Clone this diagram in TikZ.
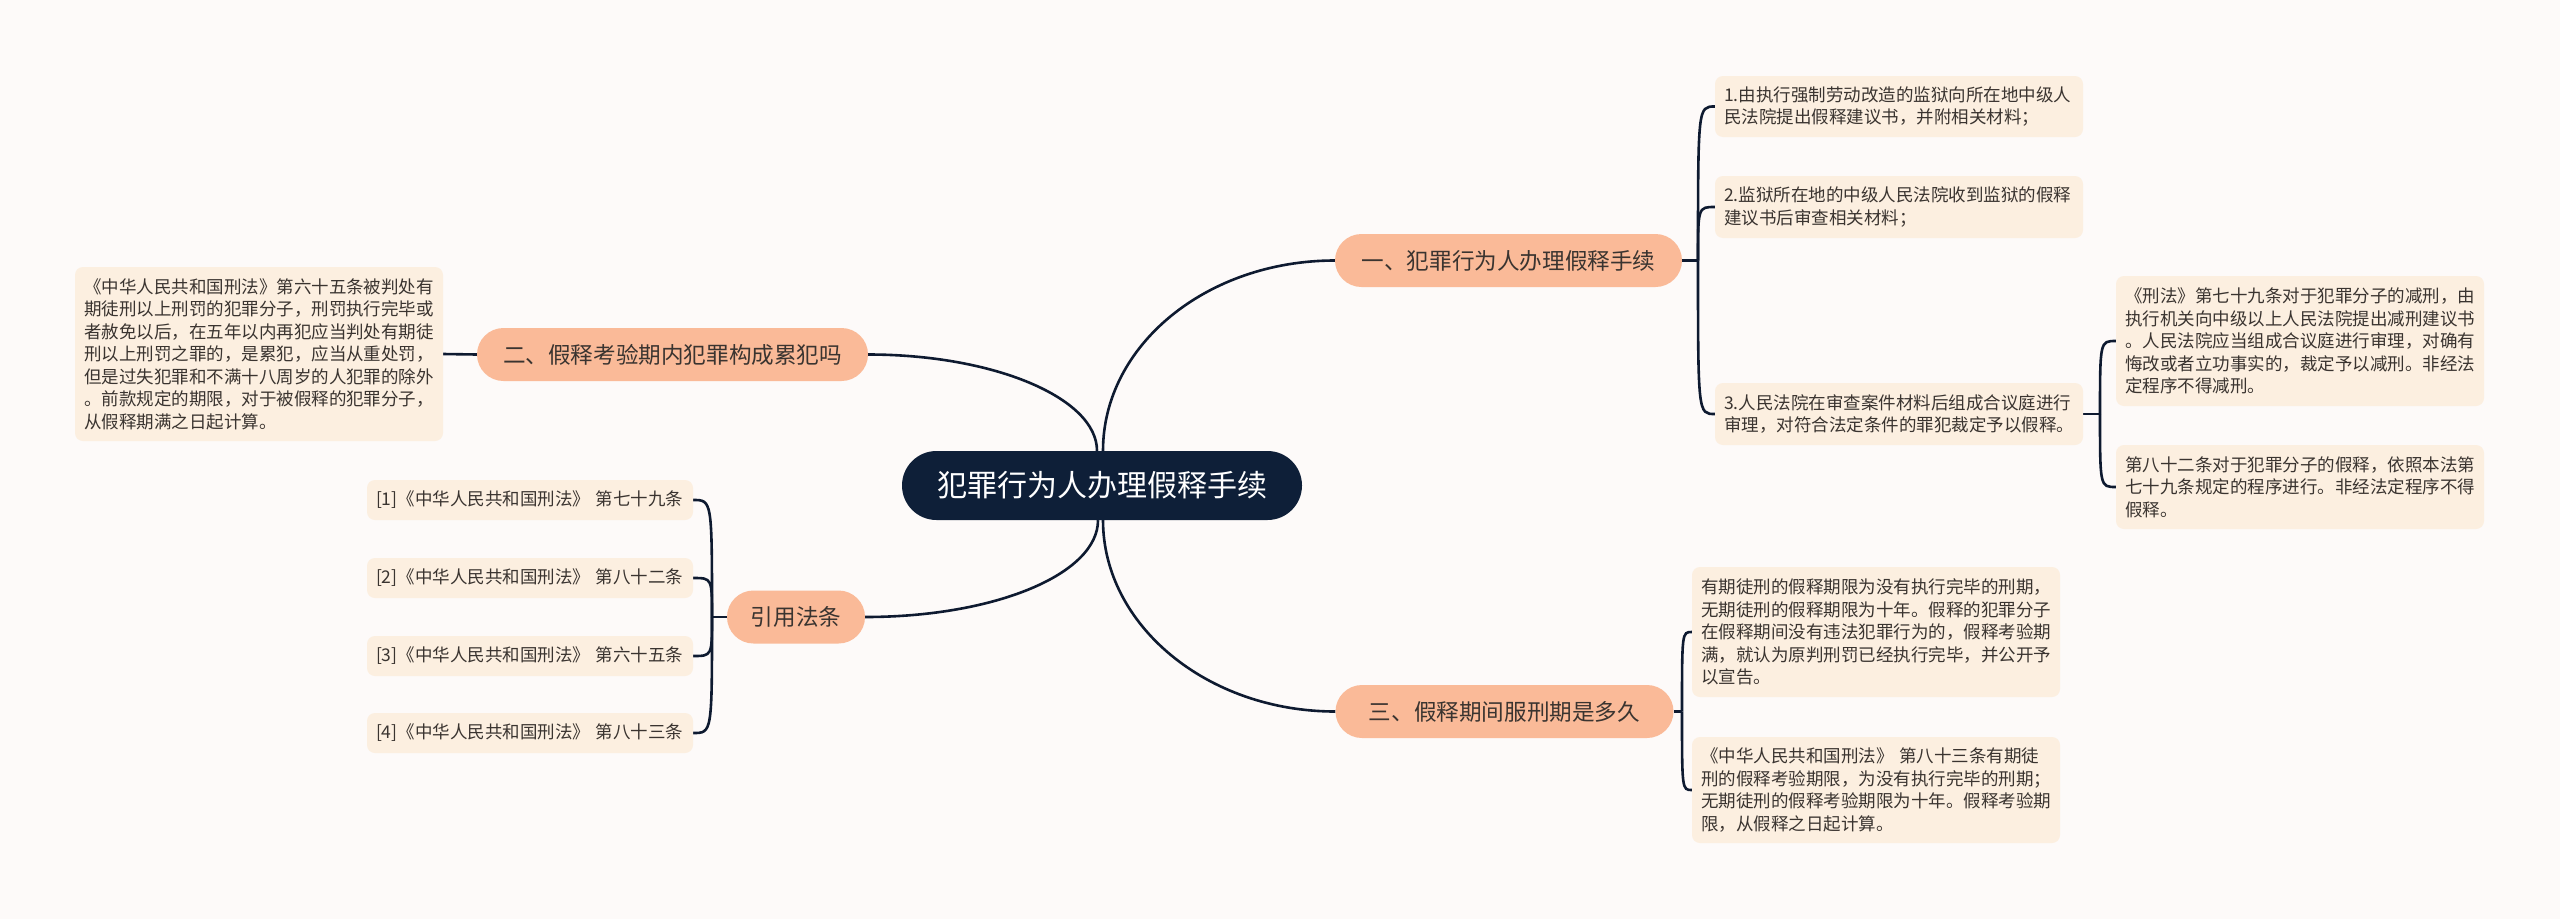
\documentclass[tikz,border=0pt]{standalone}
\usepackage{fontspec}
\setmainfont{Noto Sans CJK SC}
\usetikzlibrary{backgrounds}
\definecolor{bgc}{RGB}{253,250,249}
\definecolor{leafc}{RGB}{252,239,224}
\definecolor{branchc}{RGB}{250,186,152}
\definecolor{rootc}{RGB}{14,31,56}
\definecolor{linec}{RGB}{14,26,48}
\definecolor{txt}{RGB}{58,52,48}
\tikzset{
  leafbox/.style={fill=leafc, rounded corners=8pt, inner xsep=9pt, inner ysep=0pt,
    text width=350pt, align=left, text=txt, anchor=center,
    font=\fontsize{17.5}{22.5}\selectfont},
  refbox/.style={leafbox, text width=308pt, minimum height=40pt},
  branchbox/.style={fill=branchc, rounded corners=26.5pt, inner sep=0pt, minimum height=53pt,
    text=txt, anchor=center, font=\fontsize{22.6}{26}\selectfont},
  rootbox/.style={fill=rootc, rounded corners=34.5pt, inner sep=0pt, minimum height=69pt,
    minimum width=400pt, text=white, anchor=center, font=\fontsize{30}{34}\selectfont},
  conn/.style={draw=linec, line width=2.6pt}
}
\begin{document}
\begin{tikzpicture}[x=1pt,y=-1pt]
\useasboundingbox (0,0) rectangle (2560,919);

% root
\node[rootbox] (root) at (1102,485.5) {犯罪行为人办理假释手续};

% branches
\node[branchbox, minimum width=347pt] (b1) at (1508.5,260.5) {一、犯罪行为人办理假释手续};
\node[branchbox, minimum width=391pt] (b2) at (672.5,354.5) {二、假释考验期内犯罪构成累犯吗};
\node[branchbox, minimum width=338pt] (b3) at (1504.5,711.5) {三、假释期间服刑期是多久};
\node[branchbox, minimum width=138pt] (b4) at (796,617) {引用法条};

% branch 1 leaves
\node[leafbox, minimum height=61pt] (l1) at (1899,106.5) {1.由执行强制劳动改造的监狱向所在地中级人\\民法院提出假释建议书，并附相关材料；};
\node[leafbox, minimum height=62pt] (l2) at (1899,207) {2.监狱所在地的中级人民法院收到监狱的假释\\建议书后审查相关材料；};
\node[leafbox, minimum height=62pt] (l3) at (1899,414) {3.人民法院在审查案件材料后组成合议庭进行\\审理，对符合法定条件的罪犯裁定予以假释。};
\node[leafbox, minimum height=130pt] (s1) at (2300,341) {《刑法》第七十九条对于犯罪分子的减刑，由\\执行机关向中级以上人民法院提出减刑建议书\\。人民法院应当组成合议庭进行审理，对确有\\悔改或者立功事实的，裁定予以减刑。非经法\\定程序不得减刑。};
\node[leafbox, minimum height=84pt] (s2) at (2300,487) {第八十二条对于犯罪分子的假释，依照本法第\\七十九条规定的程序进行。非经法定程序不得\\假释。};

% branch 2 leaf
\node[leafbox, minimum height=174pt] (ll) at (259,354) {《中华人民共和国刑法》第六十五条被判处有\\期徒刑以上刑罚的犯罪分子，刑罚执行完毕或\\者赦免以后，在五年以内再犯应当判处有期徒\\刑以上刑罚之罪的，是累犯，应当从重处罚，\\但是过失犯罪和不满十八周岁的人犯罪的除外\\。前款规定的期限，对于被假释的犯罪分子，\\从假释期满之日起计算。};

% branch 3 leaves
\node[leafbox, minimum height=130pt] (t1) at (1876,632) {有期徒刑的假释期限为没有执行完毕的刑期，\\无期徒刑的假释期限为十年。假释的犯罪分子\\在假释期间没有违法犯罪行为的，假释考验期\\满，就认为原判刑罚已经执行完毕，并公开予\\以宣告。};
\node[leafbox, minimum height=106pt] (t2) at (1876,790) {《中华人民共和国刑法》 第八十三条有期徒\\刑的假释考验期限，为没有执行完毕的刑期；\\无期徒刑的假释考验期限为十年。假释考验期\\限，从假释之日起计算。};

% branch 4 leaves
\node[refbox] (r1) at (530,500) {[1]《中华人民共和国刑法》 第七十九条};
\node[refbox] (r2) at (530,578) {[2]《中华人民共和国刑法》 第八十二条};
\node[refbox] (r3) at (530,656) {[3]《中华人民共和国刑法》 第六十五条};
\node[refbox] (r4) at (530,733) {[4]《中华人民共和国刑法》 第八十三条};

% junction points
\coordinate (j1) at (1698,260.5);
\coordinate (j3) at (1682,711.5);
\coordinate (j4) at (712,617);
\coordinate (js) at (2100,414);

\begin{scope}[on background layer]
\fill[bgc] (0,0) rectangle (2560,919);
% root to branches
\draw[conn] ([xshift=1pt]root.north) .. controls (1103,345) and (1207,260.5) .. (b1.west);
\draw[conn] ([xshift=-5pt]root.north) .. controls (1097,398) and (994,354.5) .. (b2.east);
\draw[conn] ([xshift=1pt]root.south) .. controls (1103,625) and (1207,711.5) .. (b3.west);
\draw[conn] ([xshift=-4pt]root.south) .. controls (1098,574) and (995,617) .. (b4.east);
% branch 1
\draw[conn] (b1.east) -- (j1);
\draw[conn] (j1) .. controls (1698,106.5) .. (l1.west);
\draw[conn] (j1) .. controls (1698,207) .. (l2.west);
\draw[conn] (j1) .. controls (1698,414) .. (l3.west);
% leaf 3 to sub leaves
\draw[conn] (l3.east) -- (js);
\draw[conn] (js) .. controls (2100,341) .. (s1.west);
\draw[conn] (js) .. controls (2100,487) .. (s2.west);
% branch 2
\draw[conn] (b2.west) -- (ll.east);
% branch 3
\draw[conn] (b3.east) -- (j3);
\draw[conn] (j3) .. controls (1682,632) .. (t1.west);
\draw[conn] (j3) .. controls (1682,790) .. (t2.west);
% branch 4
\draw[conn] (b4.west) -- (j4);
\draw[conn] (j4) .. controls (712,500) .. (r1.east);
\draw[conn] (j4) .. controls (712,578) .. (r2.east);
\draw[conn] (j4) .. controls (712,656) .. (r3.east);
\draw[conn] (j4) .. controls (712,733) .. (r4.east);
\end{scope}
\end{tikzpicture}
\end{document}
